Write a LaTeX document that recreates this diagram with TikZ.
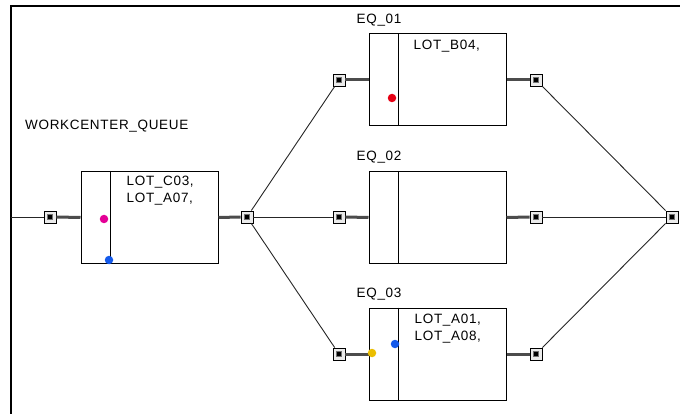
\documentclass[tikz,border=0pt]{standalone}
\usepackage{fontspec}
\setmainfont{Liberation Sans}[LetterSpace=5]
\usetikzlibrary{positioning}
\definecolor{dotmagenta}{RGB}{228,0,150}
\definecolor{dotblue}{RGB}{20,90,235}
\definecolor{dotred}{RGB}{230,0,20}
\definecolor{dotyellow}{RGB}{235,190,0}
\tikzset{
  frame/.style={line width=2pt, black},
  wcbox/.style={draw, line width=1pt, minimum width=137pt, minimum height=92pt, inner sep=0pt},
  port/.style={draw, line width=0.9pt, fill=black!8, minimum size=12pt, inner sep=0pt,
               path picture={\draw[black!55, fill=black, line width=1pt]
                 ([shift={(-2.5pt,-2.5pt)}]path picture bounding box.center) rectangle ++(5pt,5pt);}},
  wire/.style={line width=0.9pt, black!85},
  link/.style={line width=3pt, black!70},
  lotdot/.style={circle, inner sep=0pt, minimum size=8.5pt},
  lbl/.style={font=\fontsize{13.5}{17.5}\selectfont, inner sep=0pt, align=left, anchor=base west}
}

\begin{document}
\begin{tikzpicture}[x=1pt, y=-1pt]
    \useasboundingbox (0,0) rectangle (680,414);

    \draw[frame] (680,6) -- (11,6) -- (11,414);
    \coordinate (src) at (11,217);

    % queue and equipment boxes
    \node[wcbox] (queue) at (149.5,217.5) {};
    \node[wcbox] (eq1) at (437.5,80) {};
    \node[wcbox] (eq2) at (437.5,217.5) {};
    \node[wcbox] (eq3) at (437.5,354) {};

    \foreach \b in {queue,eq1,eq2,eq3}
      \draw[line width=1pt] ([xshift=30pt]\b.north west) -- ([xshift=30pt]\b.south west);

    \node[lbl] (qname) at (25,130) {WORKCENTER\_QUEUE};
    \node[lbl] (eq1name) at ([shift={(-12pt,10pt)}]eq1.north west) {EQ\_01};
    \node[lbl] (eq2name) at ([shift={(-12pt,10pt)}]eq2.north west) {EQ\_02};
    \node[lbl] (eq3name) at ([shift={(-12pt,10pt)}]eq3.north west) {EQ\_03};

    % base of a two line label is its last line
    \node[lbl] (qlots) at ([shift={(46pt,-32pt)}]queue.north west) {LOT\_C03,\\LOT\_A07,};
    \node[lbl] (eq1lots) at ([shift={(45pt,-16pt)}]eq1.north west) {LOT\_B04,};
    \node[lbl] (eq3lots) at ([shift={(46pt,-33pt)}]eq3.north west) {LOT\_A01,\\LOT\_A08,};

    % ports
    \node[port] (pin) at (50,217) {};
    \node[port] (pqo) at (247,217) {};
    \node[port] (p1i) at (339,80) {};
    \node[port] (p1o) at (536,80) {};
    \node[port] (p2i) at (339,217) {};
    \node[port] (p2o) at (536,217) {};
    \node[port] (p3i) at (339,354) {};
    \node[port] (p3o) at (536,354) {};
    \node[port] (pout) at (672,217) {};

    \draw[wire] (src) -- (pin);
    \draw[link] (pin.east) -- (queue.west);
    \draw[link] (queue.east) -- (pqo.west);

    \draw[wire] (pqo) -- (p1i);
    \draw[wire] (pqo) -- (p2i);
    \draw[wire] (pqo) -- (p3i);

    \draw[link] (p1i.east) -- (eq1.west);
    \draw[link] (p2i.east) -- (eq2.west);
    \draw[link] (p3i.east) -- (eq3.west);
    \draw[link] (eq1.east) -- (p1o.west);
    \draw[link] (eq2.east) -- (p2o.west);
    \draw[link] (eq3.east) -- (p3o.west);

    \draw[wire] (p1o) -- (pout);
    \draw[wire] (p2o) -- (pout);
    \draw[wire] (p3o) -- (pout);

    % lots
    \node[lotdot, fill=dotmagenta] (qdot1) at (104,219) {};
    \node[lotdot, fill=dotblue] (qdot2) at (109,260) {};
    \node[lotdot, fill=dotred] (eq1dot) at (392,98) {};
    \node[lotdot, fill=dotyellow] (eq3dot1) at (372,353) {};
    \node[lotdot, fill=dotblue] (eq3dot2) at (395,344) {};
\end{tikzpicture}
\end{document}
